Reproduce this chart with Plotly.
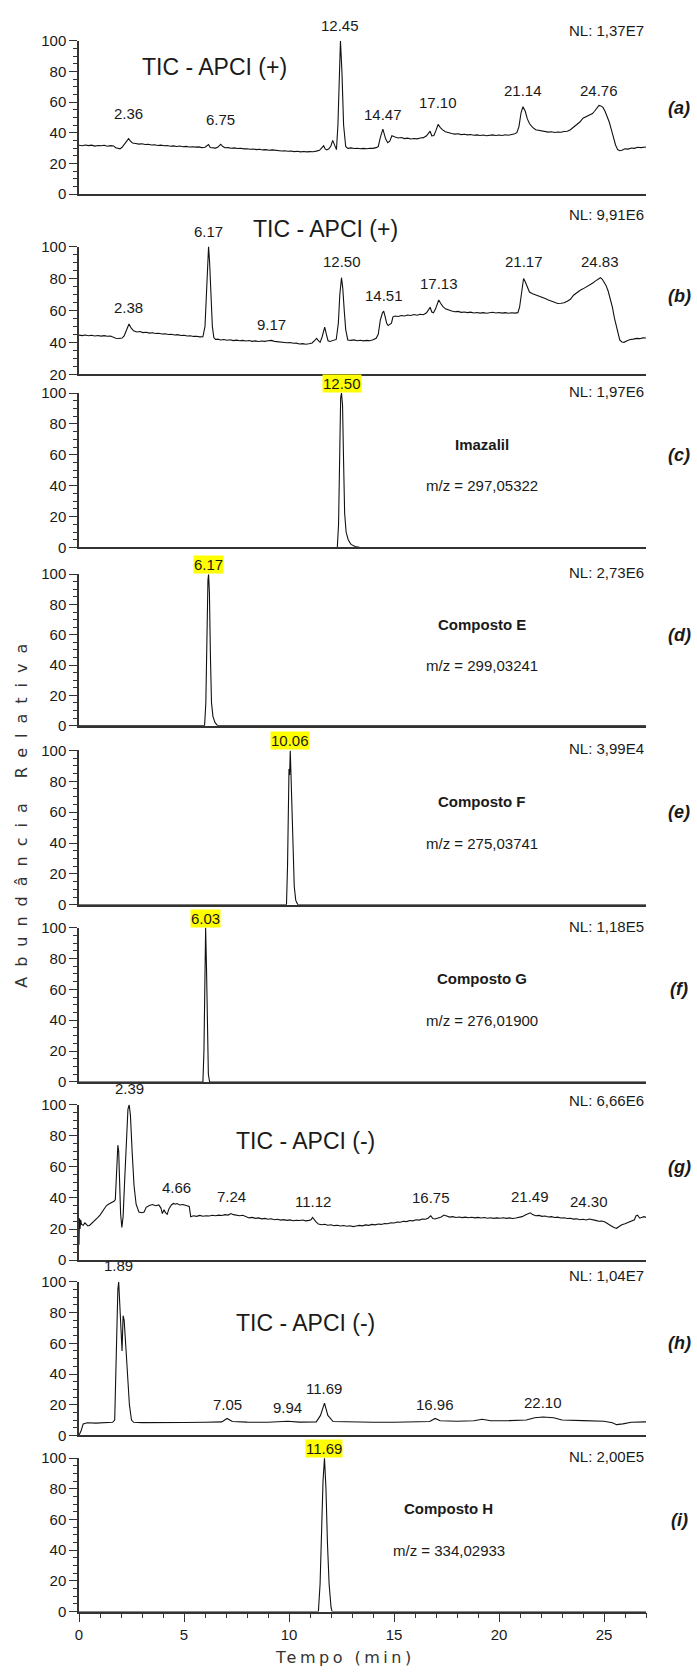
import plotly.graph_objects as go

# ---------------- data ----------------
# (a) TIC - APCI (+)
a_t = [0.0,0.15,0.3,0.45,0.6,0.75,0.9,1.05,1.2,1.35,1.5,1.65,1.75,1.85,1.95,2.05,2.15,2.25,2.36,2.45,2.55,2.7,2.85,3.0,3.15,3.3,3.45,3.6,3.75,3.9,4.05,4.2,4.35,4.5,4.65,4.8,4.95,5.1,5.25,5.4,5.55,5.7,5.85,6.0,6.1,6.17,6.25,6.35,6.5,6.6,6.75,6.85,6.95,7.1,7.25,7.4,7.55,7.7,7.85,8.0,8.15,8.3,8.45,8.6,8.75,8.9,9.05,9.2,9.35,9.5,9.65,9.8,9.95,10.1,10.25,10.4,10.55,10.7,10.85,11.0,11.15,11.3,11.45,11.55,11.65,11.72,11.8,11.9,12.0,12.08,12.14,12.2,12.26,
       12.33,12.40,12.45,12.52,12.6,12.7,12.8,12.95,13.1,13.25,13.4,13.55,13.7,13.85,14.0,14.15,14.25,14.35,14.47,14.6,14.7,14.8,14.9,15.05,15.2,15.35,15.5,15.65,15.8,15.95,16.1,16.25,16.4,16.55,16.65,16.72,16.8,16.9,17.0,17.10,17.2,17.3,17.45,17.6,17.75,17.9,18.05,18.2,18.35,18.5,18.65,18.8,18.95,19.1,19.25,19.4,19.55,19.7,19.85,20.0,20.15,20.3,20.45,20.6,20.75,20.85,20.95,21.05,21.14,21.25,21.35,21.45,21.6,21.75,21.9,22.05,22.2,22.35,22.5,22.65,22.8,22.95,23.1,23.25,23.4,23.55,23.7,23.85,24.0,24.15,24.3,24.45,24.55,24.65,24.76,24.85,24.95,25.05,25.15,25.25,25.35,25.45,25.55,25.65,25.75,25.85,26.0,26.15,26.3,26.45,26.6,26.75,26.9,27.0]
a_v = [31.8,31.5,32.0,31.6,31.9,31.3,31.7,31.5,31.8,31.2,31.6,31.4,30.2,29.8,29.5,30.5,32.5,34.0,36.2,34.5,33.3,33.0,32.6,32.8,32.3,32.5,32.0,32.2,31.7,31.9,31.5,31.7,31.2,31.4,31.0,31.3,30.9,31.1,30.7,30.9,30.6,30.8,30.3,30.5,31.8,32.3,30.4,30.2,30.0,30.5,32.5,31.0,30.2,30.3,29.9,30.1,29.7,29.9,29.5,29.6,29.2,29.4,29.0,29.2,28.8,29.0,28.6,28.8,28.4,28.5,28.1,28.3,27.9,28.1,27.7,27.9,27.5,27.8,27.5,27.7,27.6,28.0,28.5,30.0,31.5,29.5,28.8,29.5,31.5,35.0,33.0,30.5,29.0,
       45,85,100,80,45,31,29.8,30.1,29.7,29.9,29.6,29.8,29.6,29.9,29.8,30.3,31,37,42.3,36,33.5,34.5,38,37.2,36.6,36.9,36.2,36.5,35.9,36.2,36.0,36.6,36.8,38.0,40.0,41.0,38.0,38.2,41.5,45.4,43.5,42.0,40.6,39.8,39.5,39.1,39.3,38.8,39.0,38.6,38.8,38.4,38.6,38.2,38.5,38.0,38.3,38.6,38.2,38.5,38.2,38.7,38.4,38.7,39.3,40.0,44,53,57.0,54,49,46,43.5,42.0,41.5,41.0,40.8,40.4,40.6,40.2,40.5,40.3,40.8,41.0,42.0,43.8,45.5,47.0,49.5,50.5,51.5,52.5,54.0,56.0,57.8,57.5,56.5,54.0,51,47,42,37,32,29,28.3,28.6,29.5,29.3,30.0,29.8,30.5,30.3,30.8,30.7]
a_lbl = ["2.36","6.75","12.45","14.47","17.10","21.14","24.76"]
a_lbl_t = [2.36,6.75,12.45,14.47,17.10,21.14,24.76]
a_lbl_y = [45.4,42,103,45,53,60.6,60.6]

# (b) TIC - APCI (+)
b_t = [0.0,0.15,0.3,0.45,0.6,0.75,0.9,1.05,1.2,1.35,1.5,1.65,1.75,1.9,2.05,2.15,2.25,2.38,2.48,2.6,2.75,2.9,3.05,3.2,3.35,3.5,3.65,3.8,3.95,4.1,4.25,4.4,4.55,4.7,4.85,5.0,5.15,5.3,5.45,5.6,5.75,5.9,6.0,6.07,6.12,6.17,6.22,6.28,6.35,6.42,6.5,6.6,6.75,6.9,7.05,7.2,7.35,7.5,7.65,7.8,7.95,8.1,8.25,8.4,8.55,8.7,8.85,9.0,9.17,9.3,9.45,9.6,9.75,9.9,10.05,10.2,10.35,10.5,10.65,10.8,10.95,11.1,11.25,11.32,11.4,11.48,11.58,11.7,11.78,11.86,11.95,12.1,12.25,12.35,12.42,12.50,12.56,12.63,12.7,12.8,12.95,13.1,13.25,13.4,13.55,13.7,13.85,14.0,14.15,14.25,14.35,14.45,14.51,14.58,14.65,14.72,14.8,14.88,14.95,15.05,15.2,15.35,15.5,15.65,15.8,15.95,16.1,16.25,16.4,16.55,16.65,16.72,16.8,16.88,16.98,17.05,17.13,17.22,17.32,17.45,17.6,17.75,17.9,18.05,18.2,18.35,18.5,18.65,18.8,18.95,19.1,19.25,19.4,19.55,19.7,19.85,20.0,20.15,20.3,20.45,20.6,20.75,20.9,20.98,21.05,21.1,21.17,21.25,21.35,21.45,21.6,21.75,21.9,22.05,22.2,22.35,22.5,22.65,22.8,22.95,23.1,23.25,23.4,23.55,23.7,23.85,24.0,24.15,24.3,24.45,24.6,24.72,24.83,24.92,25.0,25.1,25.2,25.3,25.4,25.5,25.6,25.68,25.75,25.85,25.95,26.1,26.25,26.4,26.55,26.7,26.85,27.0]
b_v = [44.5,44.2,44.6,44.1,44.4,44.0,44.3,43.9,44.2,43.8,44.0,43.2,42.6,42.4,42.7,44.0,47.5,51.5,49.0,47.2,46.5,46.8,46.1,46.3,45.8,46.0,45.5,45.7,45.2,45.4,44.9,45.1,44.6,44.8,44.3,44.4,44.0,44.1,43.7,43.8,43.4,43.5,50,75,92,100,90,70,50,43,41.8,42.0,41.5,41.8,41.3,41.6,41.1,41.4,41.0,41.2,40.8,41.1,40.6,40.9,40.5,40.8,40.6,41.0,41.2,40.6,40.4,40.0,40.2,39.7,39.9,39.4,39.5,39.0,39.2,38.8,39.1,39.6,41.5,42.5,41.0,40.0,43.5,49.5,45,41.0,40.5,41.0,41.8,52,70,80.5,74,60,48,41.5,41.2,41.5,41.0,41.3,40.9,41.2,41.0,41.6,42.5,45,54,58.5,59.5,56,52,50.5,51.0,52.0,56,56.5,56.2,56.8,56.5,57.1,56.8,57.4,57.0,57.6,57.3,58.5,60.5,62,59.0,58.5,61,64,66.5,64.5,62.5,61.0,60.2,59.6,59.2,59.4,58.8,59.0,58.6,58.9,58.4,58.7,58.3,58.6,58.2,58.5,58.8,58.4,58.7,58.3,58.6,58.2,58.5,58.3,58.6,62,70,76,80,78,74,71.5,70.5,69.8,69.0,68.5,67.4,66.5,65.6,64.8,64.3,64.5,64.8,65.8,67.0,69.5,71.2,72.5,73.5,74.6,75.8,77.0,78.5,79.6,80.5,79.5,78.0,75.5,72,67,62,55,49,44,41.5,40.2,40.0,41.0,41.8,42.0,42.5,42.3,42.8,42.7]
b_lbl = ["2.38","6.17","9.17","12.50","14.51","17.13","21.17","24.83"]
b_lbl_t = [2.38,6.17,9.17,12.50,14.51,17.13,21.17,24.83]
b_lbl_y = [55.5,103,44.5,84,63,70,84,84]

# (c) Imazalil
c_t = [0.0,12.30,12.36,12.41,12.46,12.50,12.55,12.60,12.65,12.72,12.82,12.95,13.15,13.4,27.0]
c_v = [0,0,15,70,97,100,92,55,22,10,5,2,0.6,0,0]
# (d) Composto E
d_t = [0.0,5.98,6.04,6.09,6.14,6.17,6.21,6.26,6.31,6.38,6.48,6.6,27.0]
d_v = [0,0,15,70,96,100,88,45,15,6,2,0,0]
# (e) Composto F
e_t = [0.0,9.88,9.93,9.97,10.00,10.03,10.06,10.10,10.14,10.19,10.25,10.32,10.42,27.0]
e_v = [0,0,25,80,88,84,100,82,60,35,12,3,0,0]
# (f) Composto G
f_t = [0.0,5.90,5.95,5.99,6.03,6.07,6.11,6.16,6.22,27.0]
f_v = [0,0,20,85,100,75,30,5,0,0]

# (g) TIC - APCI (-)
g_t = [0.0,0.02,0.05,0.08,0.12,0.2,0.28,0.35,0.42,0.5,0.6,0.7,0.8,0.9,1.0,1.1,1.2,1.3,1.4,1.5,1.6,1.68,1.73,1.77,1.81,1.85,1.89,1.93,1.98,2.04,2.1,2.17,2.25,2.33,2.39,2.45,2.53,2.62,2.72,2.85,3.0,3.1,3.2,3.35,3.5,3.65,3.8,3.9,3.97,4.05,4.12,4.2,4.28,4.4,4.5,4.6,4.66,4.8,4.95,5.1,5.25,5.32,5.45,5.6,5.75,5.9,6.05,6.2,6.35,6.5,6.65,6.8,6.95,7.1,7.24,7.35,7.5,7.65,7.8,7.95,8.1,8.25,8.4,8.55,8.7,8.85,9.0,9.15,9.3,9.45,9.6,9.75,9.9,10.05,10.2,10.35,10.5,10.65,10.8,10.95,11.05,11.12,11.2,11.3,11.4,11.55,11.7,11.85,12.0,12.15,12.3,12.45,12.6,12.75,12.9,13.05,13.2,13.35,13.5,13.65,13.8,13.95,14.1,14.25,14.4,14.55,14.7,14.85,15.0,15.15,15.3,15.45,15.6,15.75,15.9,16.05,16.2,16.35,16.5,16.62,16.75,16.85,16.95,17.1,17.25,17.38,17.5,17.65,17.8,17.95,18.1,18.25,18.4,18.55,18.7,18.85,19.0,19.15,19.3,19.45,19.6,19.75,19.9,20.05,20.2,20.35,20.5,20.65,20.8,20.95,21.1,21.25,21.4,21.49,21.6,21.75,21.9,22.05,22.2,22.35,22.5,22.65,22.8,22.95,23.1,23.25,23.4,23.55,23.7,23.85,24.0,24.15,24.3,24.45,24.6,24.75,24.9,25.05,25.2,25.35,25.5,25.6,25.7,25.85,26.0,26.15,26.3,26.45,26.52,26.6,26.7,26.8,26.9,27.0]
g_v = [10,27,20,26,23,22.5,24,23,22,22.3,23.5,24.5,26,27.5,29,31,33,35,36,36.8,37.5,38,39,50,67,74,70,50,30,21,28,50,80,97,100,93,70,48,36,31,30.5,31,34,35.2,35.8,35.0,35.5,33.5,30,32.5,30.5,29.5,33,35.5,36.5,36.0,36.4,35.5,35.8,35.0,34.6,28,28.6,28.2,28.8,28.3,28.6,28.4,28.9,28.6,29.0,28.7,29.3,29.0,30,29.3,29.0,28.6,28.9,27.8,27.2,27.5,26.9,27.2,26.6,26.9,26.3,26.6,26.0,26.3,25.8,26.1,25.6,25.9,25.4,25.7,25.5,25.8,25.3,25.6,26.0,27.5,26.0,24.5,23.2,22.8,23.1,22.5,22.8,22.2,22.5,22.0,22.3,21.8,22.1,21.6,22.0,22.4,22.1,22.7,22.4,23.0,22.7,23.3,23.0,23.6,23.4,24.1,23.9,24.6,24.4,25.0,24.8,25.5,25.3,26.0,25.8,26.5,26.3,27.0,28.5,26.8,26.5,27.2,27.8,29.0,28.2,27.7,28.0,27.5,27.8,27.4,27.7,27.3,27.6,27.2,27.5,27.1,27.4,27.0,27.3,26.9,27.2,27.0,27.3,26.9,27.2,26.8,27.1,27.4,28.0,29.0,30.0,30.5,29.3,28.6,28.8,28.2,28.4,27.8,28.0,27.5,27.7,27.1,27.3,26.8,27.0,26.4,26.6,26.0,26.3,25.9,26.5,25.8,25.6,25.0,25.2,24.5,23.5,22.0,20.8,20.5,21.5,22.8,23.5,24.5,25.2,26.0,28.5,29.0,27.0,27.5,28.0,27.5]
g_lbl = ["2.39","4.66","7.24","11.12","16.75","21.49","24.30"]
g_lbl_t = [2.39,4.66,7.24,11.12,16.75,21.49,24.30]
g_lbl_y = [103.4,39.7,34,31.2,33.3,34.4,31.2]

# (h) TIC - APCI (-)
h_t = [0.0,0.1,0.2,0.4,0.8,1.2,1.6,1.7,1.75,1.8,1.85,1.89,1.95,2.0,2.05,2.1,2.15,2.22,2.3,2.4,2.5,2.6,3.0,4.0,5.0,6.0,6.8,7.05,7.3,8.0,9.0,9.94,10.5,11.3,11.5,11.69,11.85,12.1,13.0,14.0,15.0,16.0,16.7,16.96,17.2,18.0,18.8,19.2,19.6,20.5,21.3,21.7,22.1,22.6,23.0,24.0,25.0,25.4,25.6,25.9,26.3,27.0]
h_v = [0,3,7.5,8.2,8.0,8.3,8.5,10,40,80,95,100,80,72,55,78,75,60,40,20,10,8.5,8.3,8.2,8.4,8.5,8.8,11,9,8.6,8.5,9.2,8.6,8.8,13,21,13,9,8.6,8.5,8.5,8.8,9,11,9.5,9.2,9.5,10.5,9.5,9.6,10,11.5,12,11.5,10,9.6,9.2,8.2,7,7.5,8.5,8.8]
h_lbl = ["1.89","7.05","9.94","11.69","16.96","22.10"]
h_lbl_t = [1.89,7.05,9.94,11.69,16.96,22.10]
h_lbl_y = [103.9,13,11,24,13,14.5]

# (i) Composto H
i_t = [0.0,11.40,11.48,11.56,11.62,11.69,11.76,11.83,11.91,12.0,12.05,27.0]
i_v = [0,0,18,55,85,100,80,45,18,3,0,0]

panel_letters = ["(a)","(b)","(c)","(d)","(e)","(f)","(g)","(h)","(i)"]
nl_texts = ["NL: 1,37E7","NL: 9,91E6","NL: 1,97E6","NL: 2,73E6","NL: 3,99E4","NL: 1,18E5","NL: 6,66E6","NL: 1,04E7","NL: 2,00E5"]
sim_names = {2:"Imazalil",3:"Composto E",4:"Composto F",5:"Composto G",8:"Composto H"}
sim_mz = {2:"m/z = 297,05322",3:"m/z = 299,03241",4:"m/z = 275,03741",5:"m/z = 276,01900",8:"m/z = 334,02933"}
sim_peak_lbl = {2:"12.50",3:"6.17",4:"10.06",5:"6.03",8:"11.69"}
sim_peak_t = {2:12.50,3:6.17,4:10.06,5:6.03,8:11.69}

# ---------------- layout geometry ----------------
W, H = 697, 1674
ML, MR = 79, 51
panel_px = [(32,187),(240,369),(388,544),(571,724),(749,905),(928,1084),(1107,1264),(1286,1441),(1464,1619)]
yranges = [[0,100],[20,100]] + [[0,100]]*7

FONT = "Liberation Sans, Arial, sans-serif"
TXT = "#1a1a1a"
AX = "#333333"

series = [(a_t,a_v),(b_t,b_v),(c_t,c_v),(d_t,d_v),(e_t,e_v),(f_t,f_v),(g_t,g_v),(h_t,h_v),(i_t,i_v)]

def sx(k):
    return "" if k == 0 else str(k+1)

def dom(k, v):
    r0, r1 = yranges[k]
    return (v - r0) / (r1 - r0)

fig = go.Figure()
layout = dict(width=W, height=H, margin=dict(l=ML, r=MR, t=0, b=0),
              paper_bgcolor="white", plot_bgcolor="white", showlegend=False,
              font=dict(family=FONT, size=15, color=TXT))
annotations = []

def ann(k, text, x, v, size=15, xanchor="center", yanchor="bottom", **kw):
    d = dict(text=text, xref="x"+sx(k), yref="y"+sx(k)+" domain", x=x, y=dom(k, v),
             xanchor=xanchor, yanchor=yanchor, showarrow=False,
             font=dict(size=size, color=TXT, family=FONT))
    d.update(kw)
    annotations.append(d)

for k,(tt,vv) in enumerate(series):
    xs = sx(k)
    fig.add_trace(go.Scatter(x=tt, y=vv, mode="lines", line=dict(color="#111111", width=1.1),
                             xaxis="x"+xs, yaxis="y"+xs, hoverinfo="skip"))
    top, bot = panel_px[k]
    last = (k == 8)
    layout["xaxis"+xs] = dict(domain=[0,1], anchor="y"+xs, range=[0,27], showline=True,
                              linecolor=AX, linewidth=1.5, showgrid=False, zeroline=False,
                              showticklabels=last, ticks="outside" if last else "",
                              tick0=0, dtick=5, ticklen=9, tickwidth=1.2, tickcolor=AX,
                              tickfont=dict(size=15, color=TXT),
                              minor=dict(dtick=1, ticks="outside", ticklen=5, tickwidth=1.2, tickcolor=AX) if last else dict(ticks=""))
    layout["yaxis"+xs] = dict(domain=[1-bot/H, 1-top/H], anchor="x"+xs, range=yranges[k],
                              showline=True, linecolor=AX, linewidth=1.5, showgrid=False, zeroline=False,
                              ticks="outside", tick0=0, dtick=20, ticklen=8, tickwidth=1.2, tickcolor=AX,
                              tickfont=dict(size=15, color=TXT),
                              minor=dict(dtick=5, ticks="outside", ticklen=4, tickwidth=1.2, tickcolor=AX))
    annotations.append(dict(text="<b><i>"+panel_letters[k]+"</i></b>", xref="paper", yref="y"+xs+" domain",
                            x=(679-ML)/(W-ML-MR), y=dom(k, 69 if k == 1 else (56 if k == 0 else 60)),
                            showarrow=False, font=dict(size=18, color=TXT, family=FONT),
                            xanchor="center", yanchor="middle"))

# NL labels
nl_y = [106.6, 119.9, 100.8, 101, 101, 101, 102.5, 103.9, 101]
for k in range(9):
    annotations.append(dict(text=nl_texts[k], xref="x"+sx(k)+" domain", yref="y"+sx(k)+" domain",
                            x=1, y=dom(k, nl_y[k]), xanchor="right", yanchor="middle", showarrow=False,
                            font=dict(size=15, color=TXT, family=FONT)))

# peak labels for TIC panels
for k, (lbls, lt, ly) in {0:(a_lbl,a_lbl_t,a_lbl_y), 1:(b_lbl,b_lbl_t,b_lbl_y),
                          6:(g_lbl,g_lbl_t,g_lbl_y), 7:(h_lbl,h_lbl_t,h_lbl_y)}.items():
    for s, x, y in zip(lbls, lt, ly):
        ann(k, s, x, y)

# TIC titles
tic_info = {0:("TIC - APCI (+)", 6.46, 83), 1:("TIC - APCI (+)", 11.76, 111),
            6:("TIC - APCI (-)", 10.8, 77), 7:("TIC - APCI (-)", 10.8, 73.5)}
for k,(s,x,y) in tic_info.items():
    ann(k, s, x, y, size=23, yanchor="middle")

# SIM panels: highlighted peak label, compound name, m/z
name_x = {2:19.2, 3:19.2, 4:19.2, 5:19.2, 8:17.6}
for k in sim_names:
    ann(k, sim_peak_lbl[k], sim_peak_t[k], 100, bgcolor="#FFFF00", borderpad=0)
    ann(k, "<b>"+sim_names[k]+"</b>", name_x[k], 67, yanchor="middle")
    ann(k, sim_mz[k], name_x[k], 40, yanchor="middle")

# axis titles (wide letter-spaced style)
annotations.append(dict(text='<span style="letter-spacing:10px">Abundância Relativa</span>',
                        xref="paper", yref="paper", x=(22-ML)/(W-ML-MR), y=1-810/H, textangle=-90,
                        xanchor="center", yanchor="middle", showarrow=False,
                        font=dict(family="DejaVu Sans", size=16, color="#333333")))
annotations.append(dict(text='<span style="letter-spacing:3.5px">Tempo (min)</span>',
                        xref="paper", yref="paper", x=(345-ML)/(W-ML-MR), y=1-1665/H,
                        xanchor="center", yanchor="middle", showarrow=False,
                        font=dict(family="DejaVu Sans", size=16, color="#333333")))

layout["annotations"] = annotations
fig.update_layout(**layout)
fig.write_html("out.html")
